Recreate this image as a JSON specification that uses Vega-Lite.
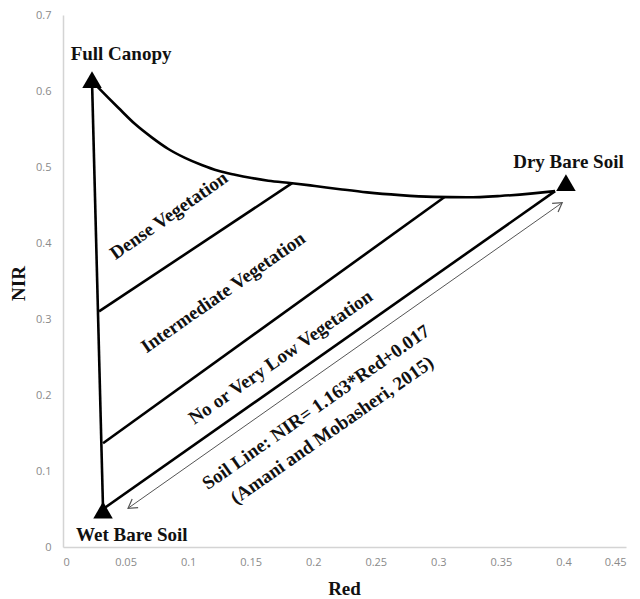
{
  "$schema": "https://vega.github.io/schema/vega-lite/v6.json",
  "width": 563,
  "height": 532,
  "autosize": {"type": "none"},
  "padding": {"left": 63, "top": 15, "right": 14, "bottom": 52},
  "background": "white",
  "config": {
    "view": {"stroke": null},
    "axis": {
      "grid": false,
      "ticks": false,
      "domainColor": "#d4d4d4",
      "domainWidth": 1.5,
      "labelColor": "#8a8a8a",
      "labelFont": "Open Sans",
      "labelFontSize": 11,
      "titleFont": "Liberation Serif",
      "titleFontSize": 19,
      "titleFontWeight": "bold",
      "titleColor": "#111111"
    }
  },
  "datasets": {
    "curve": [
      {"Red": 0.0232, "NIR": 0.613},
      {"Red": 0.0282, "NIR": 0.6045},
      {"Red": 0.0442, "NIR": 0.578},
      {"Red": 0.0576, "NIR": 0.5565},
      {"Red": 0.0709, "NIR": 0.539},
      {"Red": 0.0842, "NIR": 0.5237},
      {"Red": 0.0975, "NIR": 0.512},
      {"Red": 0.1109, "NIR": 0.5026},
      {"Red": 0.1241, "NIR": 0.495},
      {"Red": 0.1375, "NIR": 0.4898},
      {"Red": 0.1508, "NIR": 0.4855},
      {"Red": 0.1641, "NIR": 0.482},
      {"Red": 0.1831, "NIR": 0.4787},
      {"Red": 0.2014, "NIR": 0.475},
      {"Red": 0.2214, "NIR": 0.4708},
      {"Red": 0.243, "NIR": 0.4666},
      {"Red": 0.2694, "NIR": 0.463},
      {"Red": 0.2958, "NIR": 0.4607},
      {"Red": 0.323, "NIR": 0.4601},
      {"Red": 0.3493, "NIR": 0.4619},
      {"Red": 0.3757, "NIR": 0.4653},
      {"Red": 0.3933, "NIR": 0.4682}
    ],
    "segments": [
      {"name": "left edge", "x1": 0.0232, "y1": 0.613, "x2": 0.032, "y2": 0.05},
      {"name": "dense boundary", "x1": 0.0288, "y1": 0.31, "x2": 0.1831, "y2": 0.4787},
      {"name": "intermediate boundary", "x1": 0.032, "y1": 0.1366, "x2": 0.305, "y2": 0.4605},
      {"name": "soil line", "x1": 0.032, "y1": 0.05, "x2": 0.3933, "y2": 0.4682}
    ],
    "arrow": [
      {"x1": 0.052, "y1": 0.051, "x2": 0.399, "y2": 0.453}
    ],
    "vertices": [
      {"label": "Full Canopy", "Red": 0.0232, "NIR": 0.615, "lx": 0.0464, "ly": 0.649},
      {"label": "Wet Bare Soil", "Red": 0.032, "NIR": 0.0486, "lx": 0.055, "ly": 0.0158},
      {"label": "Dry Bare Soil", "Red": 0.402, "NIR": 0.4795, "lx": 0.404, "ly": 0.506}
    ],
    "zones": [
      {"label": "Dense Vegetation", "Red": 0.0847, "NIR": 0.436},
      {"label": "Intermediate Vegetation", "Red": 0.128, "NIR": 0.335},
      {"label": "No or Very Low Vegetation", "Red": 0.174, "NIR": 0.2497},
      {"label": "Soil Line: NIR= 1.163*Red+0.017", "Red": 0.2022, "NIR": 0.184},
      {"label": "(Amani and Mobasheri, 2015)", "Red": 0.215, "NIR": 0.1537}
    ]
  },
  "layer": [
    {
      "data": {"name": "curve"},
      "mark": {"type": "line", "color": "black", "strokeWidth": 2.6, "interpolate": "monotone"},
      "encoding": {
        "x": {
          "field": "Red", "type": "quantitative",
          "scale": {"domain": [0, 0.45], "nice": false, "zero": false},
          "axis": {
            "title": "Red",
            "values": [0, 0.05, 0.1, 0.15, 0.2, 0.25, 0.3, 0.35, 0.4, 0.45],
            "format": "~g",
            "labelPadding": 9,
            "titleX": 281,
            "titleY": 41,
            "titleBaseline": "middle"
          }
        },
        "y": {
          "field": "NIR", "type": "quantitative",
          "scale": {"domain": [0, 0.7], "nice": false, "zero": false},
          "axis": {
            "title": "NIR",
            "values": [0, 0.1, 0.2, 0.3, 0.4, 0.5, 0.6, 0.7],
            "format": "~g",
            "labelPadding": 12,
            "titleX": -45,
            "titleY": 268,
            "titleAngle": -90,
            "titleAlign": "center",
            "titleBaseline": "middle"
          }
        }
      }
    },
    {
      "data": {"name": "segments"},
      "mark": {"type": "rule", "color": "black", "strokeWidth": 2.6},
      "encoding": {
        "x": {"field": "x1", "type": "quantitative"},
        "y": {"field": "y1", "type": "quantitative"},
        "x2": {"field": "x2"},
        "y2": {"field": "y2"}
      }
    },
    {
      "data": {"name": "arrow"},
      "mark": {"type": "rule", "color": "#555555", "strokeWidth": 1},
      "encoding": {
        "x": {"field": "x1", "type": "quantitative"},
        "y": {"field": "y1", "type": "quantitative"},
        "x2": {"field": "x2"},
        "y2": {"field": "y2"}
      }
    },
    {
      "data": {"name": "arrow"},
      "mark": {"type": "point", "shape": "M -1 -0.6 L 0 0 L -1 0.6", "filled": false, "stroke": "#555555", "strokeWidth": 1.2, "size": 300, "angle": -35, "opacity": 1},
      "encoding": {
        "x": {"field": "x2", "type": "quantitative"},
        "y": {"field": "y2", "type": "quantitative"}
      }
    },
    {
      "data": {"name": "arrow"},
      "mark": {"type": "point", "shape": "M -1 -0.6 L 0 0 L -1 0.6", "filled": false, "stroke": "#555555", "strokeWidth": 1.2, "size": 300, "angle": 145, "opacity": 1},
      "encoding": {
        "x": {"field": "x1", "type": "quantitative"},
        "y": {"field": "y1", "type": "quantitative"}
      }
    },
    {
      "data": {"name": "vertices"},
      "mark": {"type": "point", "shape": "triangle-up", "filled": true, "color": "black", "size": 380, "opacity": 1},
      "encoding": {
        "x": {"field": "Red", "type": "quantitative"},
        "y": {"field": "NIR", "type": "quantitative"}
      }
    },
    {
      "data": {"name": "vertices"},
      "mark": {"type": "text", "font": "Liberation Serif", "fontWeight": "bold", "fontSize": 19, "color": "#111111", "align": "center", "baseline": "middle"},
      "encoding": {
        "x": {"field": "lx", "type": "quantitative"},
        "y": {"field": "ly", "type": "quantitative"},
        "text": {"field": "label"}
      }
    },
    {
      "data": {"name": "zones"},
      "mark": {"type": "text", "font": "Liberation Serif", "fontWeight": "bold", "fontSize": 19, "color": "#111111", "align": "center", "baseline": "middle", "angle": -35},
      "encoding": {
        "x": {"field": "Red", "type": "quantitative"},
        "y": {"field": "NIR", "type": "quantitative"},
        "text": {"field": "label"}
      }
    }
  ]
}
